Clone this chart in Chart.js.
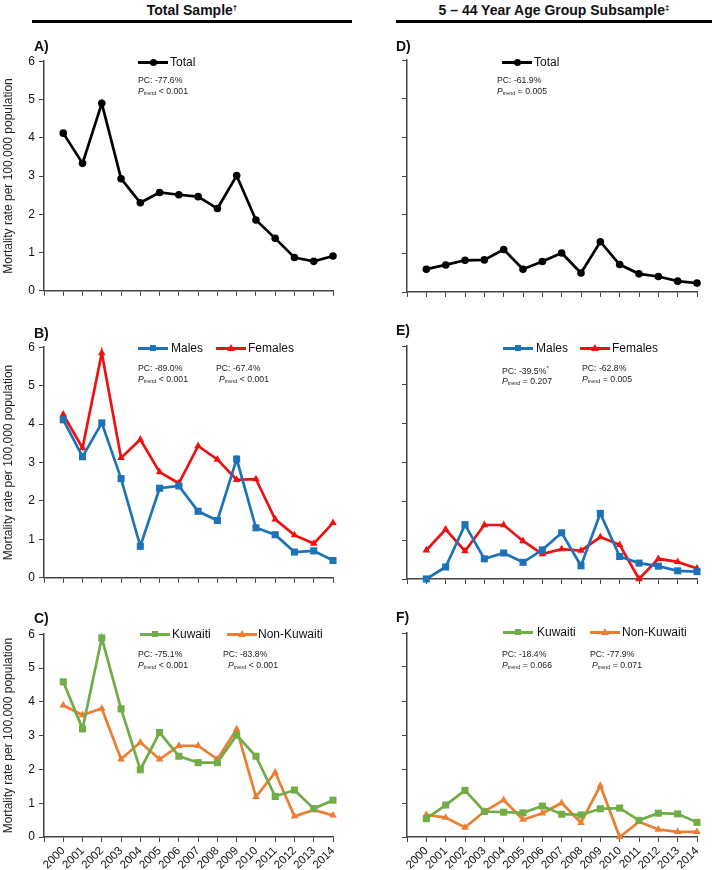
<!DOCTYPE html>
<html lang="en">
<head>
<meta charset="UTF-8">
<title>Mortality rate per 100,000 population, 2000-2014</title>
<script src="https://cdn.jsdelivr.net/npm/chart.js"></script>
<style>
  body { margin: 0; background: #fff; font-family: "Liberation Sans", Arial, sans-serif; color: #111; }
  #page { position: relative; width: 714px; height: 870px; overflow: hidden; }
  .abs { position: absolute; }
  .head { font-weight: bold; font-size: 14px; text-align: center; white-space: nowrap; line-height: 16px; }
  .head sup { font-size: 8px; vertical-align: 5px; }
  .rule { height: 3px; background: #000; }
  .plabel { font-weight: bold; font-size: 14px; line-height: 16px; }
  .leg { font-size: 12px; line-height: 14px; white-space: nowrap; }
  .leg .ln { position: absolute; top: 6px; height: 2.5px; }
  .leg .mk { position: absolute; }
  .note { font-size: 8.7px; line-height: 11px; white-space: nowrap; color: #222; }
  .note sub { font-size: 5.5px; vertical-align: -1px; }
  .note sup { font-size: 6px; }
</style>
</head>
<body>
<div id="page"></div>

<script>
    // 데이터
    const years = ['2000', '2001', '2002', '2003', '2004', '2005', '2006', '2007',
                   '2008', '2009', '2010', '2011', '2012', '2013', '2014'];

    const totalAll        = [4.12, 3.33, 4.90, 2.93, 2.30, 2.57, 2.51, 2.46, 2.15, 3.01, 1.85, 1.37, 0.87, 0.77, 0.91];
    const totalYoung      = [0.59, 0.70, 0.82, 0.83, 1.10, 0.59, 0.79, 1.01, 0.49, 1.30, 0.71, 0.47, 0.40, 0.28, 0.23];
    const malesAll        = [4.11, 3.15, 4.03, 2.58, 0.82, 2.33, 2.39, 1.73, 1.49, 3.09, 1.30, 1.12, 0.67, 0.70, 0.45];
    const femalesAll      = [4.25, 3.38, 5.85, 3.12, 3.60, 2.75, 2.46, 3.43, 3.08, 2.55, 2.57, 1.52, 1.11, 0.89, 1.43];
    const malesYoung      = [0.00, 0.31, 1.40, 0.52, 0.67, 0.43, 0.75, 1.19, 0.34, 1.69, 0.58, 0.41, 0.33, 0.21, 0.19];
    const femalesYoung    = [0.74, 1.28, 0.72, 1.39, 1.39, 0.98, 0.64, 0.77, 0.73, 1.08, 0.88, 0.00, 0.52, 0.44, 0.27];
    const kuwaitiAll      = [4.59, 3.20, 5.89, 3.79, 1.99, 3.09, 2.39, 2.20, 2.20, 3.01, 2.39, 1.20, 1.39, 0.84, 1.09];
    const nonKuwaitiAll   = [3.90, 3.61, 3.80, 2.30, 2.80, 2.30, 2.70, 2.70, 2.30, 3.19, 1.19, 1.91, 0.61, 0.80, 0.64];
    const kuwaitiYoung    = [0.54, 0.94, 1.37, 0.75, 0.73, 0.71, 0.91, 0.67, 0.65, 0.83, 0.85, 0.49, 0.70, 0.68, 0.43];
    const nonKuwaitiYoung = [0.65, 0.57, 0.28, 0.75, 1.09, 0.51, 0.70, 1.00, 0.42, 1.51, 0.00, 0.45, 0.22, 0.15, 0.15];

    const yMin = 0, yMax = 6, yStep = 1;
    const yTitle = 'Mortality rate per 100,000 population';

    // 색상 / 마커
    const BLACK = '#000000', BLUE = '#1d72b8', RED = '#ee1111', GREEN = '#70ad47', ORANGE = '#ed7d31';
    const FONT = '"Liberation Sans", Arial, sans-serif';
    Chart.defaults.font.family = FONT;
    Chart.defaults.color = '#111';

    const page = document.getElementById('page');

    function addDiv(cls, left, top, html, extra) {
        const d = document.createElement('div');
        d.className = 'abs ' + cls;
        d.style.left = left + 'px';
        d.style.top = top + 'px';
        if (extra) Object.assign(d.style, extra);
        d.innerHTML = html;
        page.appendChild(d);
        return d;
    }

    // 상단 제목
    addDiv('head', 32, 0, 'Total Sample<sup>†</sup>', { width: '320px' });
    addDiv('rule', 32, 20, '', { width: '320px' });
    addDiv('head', 396, 0, '5 – 44 Year Age Group Subsample<sup>‡</sup>', { width: '316px' });
    addDiv('rule', 396, 20, '', { width: '316px' });

    // 범례 항목
    function legendItem(x, y, name, color, marker, textX) {
        const d = addDiv('leg', x, y - 7, '', { width: (textX - x + 80) + 'px', height: '14px' });
        const ln = document.createElement('span');
        ln.className = 'ln';
        ln.style.left = '0px'; ln.style.width = '30px'; ln.style.background = color;
        d.appendChild(ln);
        const mk = document.createElement('span');
        mk.className = 'mk';
        if (marker === 'circle') {
            Object.assign(mk.style, { left: '11.5px', top: '3.5px', width: '7px', height: '7px', borderRadius: '50%', background: color });
        } else if (marker === 'rect') {
            Object.assign(mk.style, { left: '12px', top: '4px', width: '6px', height: '6px', background: color });
        } else {
            Object.assign(mk.style, { left: '11px', top: '3px', width: '0', height: '0',
                borderLeft: '4px solid transparent', borderRight: '4px solid transparent', borderBottom: '7px solid ' + color });
        }
        d.appendChild(mk);
        const t = document.createElement('span');
        t.className = 'abs';
        t.style.left = (textX - x) + 'px';
        t.style.top = '0px';
        t.textContent = name;
        d.appendChild(t);
    }

    function note(x, y, pc, p, indent) {
        addDiv('note', x, y - 5.5, 'PC: ' + pc + '<br><span style="padding-left:' + (indent || 0) + 'px"><i>P</i><sub>trend</sub> ' + p + '</span>');
    }

    // 패널 설정
    const panels = [
        { label: 'A)', col: 0, top: 50, height: 252, xlabels: false, labelY: 38,
          series: [{ name: 'Total', values: totalAll, color: BLACK, marker: 'circle' }],
          legend: [[138, 62, 170]], notes: [[138, 80, '-77.6%', '< 0.001', 0]] },
        { label: 'B)', col: 0, top: 336, height: 253, xlabels: false, labelY: 325,
          series: [{ name: 'Males', values: malesAll, color: BLUE, marker: 'rect' },
                   { name: 'Females', values: femalesAll, color: RED, marker: 'triangle' }],
          legend: [[138, 348, 171], [216, 348, 248]],
          notes: [[138, 368, '-89.0%', '< 0.001', 0], [216, 368, '-67.4%', '< 0.001', 3]] },
        { label: 'C)', col: 0, top: 623, height: 247, xlabels: true, labelY: 610,
          series: [{ name: 'Kuwaiti', values: kuwaitiAll, color: GREEN, marker: 'rect' },
                   { name: 'Non-Kuwaiti', values: nonKuwaitiAll, color: ORANGE, marker: 'triangle' }],
          legend: [[140, 634, 172], [227, 634, 258]],
          notes: [[138, 654, '-75.1%', '< 0.001', 0], [223, 654, '-83.8%', '< 0.001', 5]] },
        { label: 'D)', col: 1, top: 50, height: 252, xlabels: false, labelY: 38,
          series: [{ name: 'Total', values: totalYoung, color: BLACK, marker: 'circle' }],
          legend: [[502, 62, 534]], notes: [[497, 80, '-61.9%', '= 0.005', 0]] },
        { label: 'E)', col: 1, top: 336, height: 253, xlabels: false, labelY: 322,
          series: [{ name: 'Males', values: malesYoung, color: BLUE, marker: 'rect' },
                   { name: 'Females', values: femalesYoung, color: RED, marker: 'triangle' }],
          legend: [[503, 348, 536], [580, 348, 612]],
          notes: [[502, 368, '-39.5%<sup>*</sup>', '= 0.207', 0], [582, 368, '-62.8%', '= 0.005', 0]] },
        { label: 'F)', col: 1, top: 623, height: 247, xlabels: true, labelY: 609,
          series: [{ name: 'Kuwaiti', values: kuwaitiYoung, color: GREEN, marker: 'rect' },
                   { name: 'Non-Kuwaiti', values: nonKuwaitiYoung, color: ORANGE, marker: 'triangle' }],
          legend: [[503, 632, 537], [590, 632, 622]],
          notes: [[502, 654, '-18.4%', '= 0.066', 0], [590, 654, '-77.9%', '= 0.071', 2]] },
    ];

    const markerRadius = { circle: 3.8, rect: 5, triangle: 4.4 };

    function buildPanel(p) {
        const left = p.col === 0;
        const wrapLeft = left ? 0 : 355;
        const wrapWidth = left ? 355 : 359;
        const wrap = addDiv('', wrapLeft, p.top, '', { width: wrapWidth + 'px', height: p.height + 'px' });
        const canvas = document.createElement('canvas');
        wrap.appendChild(canvas);

        addDiv('plabel', left ? 34 : 396, p.labelY, p.label);
        p.legend.forEach((l, i) => legendItem(l[0], l[1], p.series[i].name, p.series[i].color, p.series[i].marker, l[2]));
        p.notes.forEach(n => note(n[0], n[1], n[2], n[3], n[4]));

        const axisGrid = { display: true, drawOnChartArea: false, drawTicks: true, tickLength: 5, color: '#444', lineWidth: 1 };
        const axisBorder = { display: true, color: '#444', width: 1.5 };

        new Chart(canvas, {
            type: 'line',
            data: {
                labels: [''].concat(years),
                datasets: p.series.map(s => ({
                    label: s.name,
                    data: [null].concat(s.values),
                    borderColor: s.color,
                    backgroundColor: s.color,
                    borderWidth: 2.7,
                    pointStyle: s.marker,
                    pointRadius: markerRadius[s.marker],
                    pointBorderWidth: 0,
                    pointBackgroundColor: s.color,
                    tension: 0,
                    clip: false,
                })),
            },
            options: {
                responsive: true,
                maintainAspectRatio: false,
                animation: false,
                layout: { padding: { top: 10, left: 0, right: left ? 22 : 17, bottom: p.xlabels ? 0 : 2 } },
                plugins: { legend: { display: false }, tooltip: { enabled: false } },
                scales: {
                    x: {
                        type: 'category',
                        offset: false,
                        grid: axisGrid,
                        border: axisBorder,
                        ticks: { display: p.xlabels, autoSkip: false, minRotation: 45, maxRotation: 45,
                                 font: { size: 11.5 }, color: '#111', padding: 2 },
                        afterFit: s => { s.height = p.xlabels ? 33 : 8; },
                    },
                    y: {
                        min: yMin, max: yMax,
                        grid: axisGrid,
                        border: axisBorder,
                        ticks: { display: left, stepSize: yStep, font: { size: 12 }, color: '#111', padding: 4 },
                        title: { display: left, text: yTitle, font: { size: 12 }, color: '#222', padding: { top: 1, bottom: 0 } },
                        afterFit: s => { s.width = left ? 44 : 52; },
                    },
                },
            },
        });
    }

    panels.forEach(buildPanel);
</script>
</body>
</html>
